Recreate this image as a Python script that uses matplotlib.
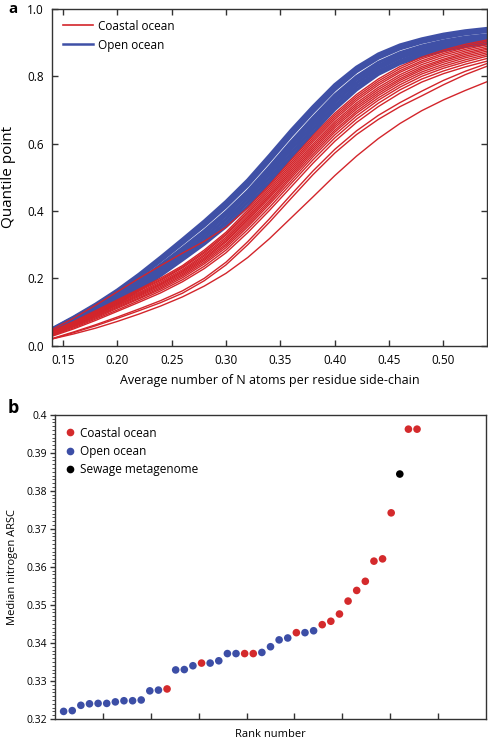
import numpy as np
import matplotlib
matplotlib.use("Agg")
import matplotlib.pyplot as plt
from matplotlib.lines import Line2D

plt.rcParams['font.family'] = ['Open Sans', 'DejaVu Sans']

# ---------------- Panel a data ----------------
x_grid = [0.14, 0.16, 0.18, 0.20, 0.22, 0.24, 0.26, 0.28, 0.30, 0.32, 0.34,
          0.36, 0.38, 0.40, 0.42, 0.44, 0.46, 0.48, 0.50, 0.52, 0.54]

open_curves = [
    [0.050, 0.085, 0.123, 0.165, 0.212, 0.263, 0.316, 0.370, 0.428, 0.492, 0.565, 0.640, 0.710, 0.775, 0.827, 0.866, 0.893, 0.911, 0.925, 0.935, 0.942],
    [0.049, 0.083, 0.120, 0.161, 0.207, 0.258, 0.310, 0.363, 0.421, 0.484, 0.557, 0.632, 0.702, 0.768, 0.820, 0.860, 0.888, 0.906, 0.920, 0.930, 0.938],
    [0.047, 0.081, 0.117, 0.157, 0.203, 0.252, 0.304, 0.356, 0.413, 0.476, 0.549, 0.624, 0.694, 0.760, 0.814, 0.854, 0.882, 0.901, 0.915, 0.926, 0.933],
    [0.044, 0.076, 0.110, 0.149, 0.193, 0.240, 0.290, 0.341, 0.397, 0.459, 0.531, 0.606, 0.677, 0.744, 0.799, 0.841, 0.870, 0.890, 0.905, 0.916, 0.923],
    [0.042, 0.073, 0.106, 0.144, 0.186, 0.233, 0.282, 0.332, 0.387, 0.448, 0.520, 0.595, 0.666, 0.734, 0.790, 0.832, 0.862, 0.882, 0.898, 0.909, 0.917],
    [0.040, 0.070, 0.102, 0.138, 0.180, 0.225, 0.273, 0.322, 0.376, 0.437, 0.509, 0.584, 0.655, 0.724, 0.780, 0.824, 0.855, 0.875, 0.891, 0.903, 0.911],
    [0.037, 0.066, 0.098, 0.133, 0.173, 0.217, 0.264, 0.312, 0.365, 0.426, 0.497, 0.572, 0.644, 0.713, 0.770, 0.815, 0.846, 0.868, 0.884, 0.896, 0.904],
    [0.035, 0.063, 0.093, 0.127, 0.166, 0.209, 0.255, 0.302, 0.354, 0.414, 0.485, 0.560, 0.632, 0.702, 0.760, 0.806, 0.838, 0.860, 0.877, 0.889, 0.897],
]

coastal_curves = [
    [0.048, 0.082, 0.120, 0.160, 0.200, 0.238, 0.275, 0.310, 0.352, 0.410, 0.478, 0.552, 0.624, 0.690, 0.746, 0.792, 0.829, 0.857, 0.878, 0.895, 0.908],
    [0.044, 0.072, 0.104, 0.136, 0.168, 0.201, 0.238, 0.284, 0.337, 0.403, 0.473, 0.546, 0.618, 0.684, 0.740, 0.786, 0.823, 0.852, 0.873, 0.890, 0.904],
    [0.042, 0.070, 0.101, 0.133, 0.165, 0.197, 0.234, 0.279, 0.332, 0.397, 0.467, 0.540, 0.612, 0.678, 0.734, 0.780, 0.817, 0.846, 0.868, 0.885, 0.899],
    [0.041, 0.069, 0.099, 0.131, 0.162, 0.194, 0.231, 0.275, 0.328, 0.392, 0.461, 0.534, 0.606, 0.672, 0.728, 0.774, 0.812, 0.841, 0.863, 0.880, 0.894],
    [0.040, 0.067, 0.097, 0.128, 0.158, 0.190, 0.226, 0.270, 0.322, 0.386, 0.455, 0.528, 0.599, 0.665, 0.721, 0.767, 0.805, 0.835, 0.857, 0.875, 0.889],
    [0.038, 0.065, 0.094, 0.125, 0.155, 0.186, 0.222, 0.266, 0.317, 0.381, 0.449, 0.522, 0.593, 0.659, 0.715, 0.761, 0.799, 0.829, 0.851, 0.870, 0.884],
    [0.037, 0.063, 0.092, 0.122, 0.152, 0.183, 0.219, 0.261, 0.312, 0.376, 0.444, 0.516, 0.587, 0.653, 0.709, 0.755, 0.793, 0.824, 0.847, 0.865, 0.880],
    [0.036, 0.062, 0.090, 0.120, 0.149, 0.180, 0.215, 0.257, 0.308, 0.371, 0.439, 0.510, 0.581, 0.647, 0.703, 0.749, 0.788, 0.819, 0.842, 0.860, 0.875],
    [0.035, 0.060, 0.087, 0.117, 0.146, 0.176, 0.211, 0.253, 0.302, 0.365, 0.432, 0.504, 0.575, 0.640, 0.696, 0.743, 0.782, 0.813, 0.836, 0.855, 0.870],
    [0.033, 0.058, 0.085, 0.114, 0.142, 0.172, 0.207, 0.248, 0.297, 0.359, 0.426, 0.498, 0.568, 0.634, 0.690, 0.736, 0.775, 0.807, 0.830, 0.849, 0.865],
    [0.032, 0.056, 0.082, 0.111, 0.139, 0.168, 0.202, 0.243, 0.291, 0.353, 0.420, 0.490, 0.561, 0.626, 0.682, 0.729, 0.768, 0.800, 0.824, 0.843, 0.860],
    [0.030, 0.053, 0.079, 0.106, 0.134, 0.163, 0.196, 0.236, 0.284, 0.345, 0.411, 0.482, 0.552, 0.617, 0.673, 0.720, 0.760, 0.792, 0.816, 0.836, 0.853],
    [0.028, 0.050, 0.075, 0.102, 0.129, 0.157, 0.190, 0.229, 0.276, 0.336, 0.402, 0.472, 0.542, 0.607, 0.663, 0.710, 0.750, 0.783, 0.808, 0.828, 0.845],
    [0.021, 0.041, 0.062, 0.085, 0.109, 0.134, 0.163, 0.200, 0.248, 0.309, 0.377, 0.449, 0.519, 0.583, 0.638, 0.684, 0.722, 0.756, 0.788, 0.815, 0.838],
    [0.020, 0.039, 0.059, 0.081, 0.104, 0.128, 0.156, 0.193, 0.240, 0.300, 0.367, 0.438, 0.508, 0.572, 0.627, 0.672, 0.710, 0.742, 0.775, 0.805, 0.830],
    [0.020, 0.035, 0.052, 0.072, 0.094, 0.118, 0.145, 0.177, 0.215, 0.262, 0.318, 0.380, 0.442, 0.505, 0.563, 0.615, 0.660, 0.698, 0.730, 0.758, 0.784],
]

a_xticks = [0.15, 0.20, 0.25, 0.30, 0.35, 0.40, 0.45, 0.50]
a_yticks = [0.0, 0.2, 0.4, 0.6, 0.8, 1.0]

# ---------------- Panel b data ----------------
rank_values = [0.3220, 0.3222, 0.3236, 0.3240, 0.3241, 0.3241, 0.3245, 0.3248, 0.3248, 0.3250,
               0.3274, 0.3276, 0.3279, 0.3329, 0.3330, 0.3340, 0.3347, 0.3347, 0.3353, 0.3372,
               0.3372, 0.3372, 0.3372, 0.3375, 0.3390, 0.3408, 0.3413, 0.3427, 0.3427, 0.3432,
               0.3448, 0.3457, 0.3476, 0.3510, 0.3538, 0.3562, 0.3615, 0.3621, 0.3742, 0.3844,
               0.3962, 0.3962]
rank_groups = ['O', 'O', 'O', 'O', 'O', 'O', 'O', 'O', 'O', 'O',
               'O', 'O', 'C', 'O', 'O', 'O', 'C', 'O', 'O', 'O',
               'O', 'C', 'C', 'O', 'O', 'O', 'O', 'C', 'O', 'O',
               'C', 'C', 'C', 'C', 'C', 'C', 'C', 'C', 'C', 'S',
               'C', 'C']
group_names = {'C': 'Coastal ocean', 'O': 'Open ocean', 'S': 'Sewage metagenome'}
b_yticks = [0.32, 0.33, 0.34, 0.35, 0.36, 0.37, 0.38, 0.39, 0.40]
b_yticklabels = ['0.32', '0.33', '0.34', '0.35', '0.36', '0.37', '0.38', '0.39', '0.4']

RED = '#d3252b'
BLUE = '#3f50a6'
colors = {'C': '#d42a2c', 'O': '#3c4ea6', 'S': '#000000'}
SPINE = '#333333'

fig = plt.figure(figsize=(4.89, 7.40), dpi=100)

# ---------------- Panel a ----------------
axa = fig.add_axes([52/489, 1-345.7/740, (487-52)/489, (345.7-9)/740])
for c in open_curves:
    axa.plot(x_grid, c, color=BLUE, lw=2.4, solid_joinstyle='round')
for c in coastal_curves:
    axa.plot(x_grid, c, color=RED, lw=1.0, solid_joinstyle='round')
axa.set_xlim(0.14, 0.54)
axa.set_ylim(0.0, 1.0)
axa.set_xticks(a_xticks)
axa.set_xticklabels(['%.2f' % v for v in a_xticks])
axa.set_yticks(a_yticks)
axa.set_yticklabels(['%.1f' % v for v in a_yticks])
axa.tick_params(direction='in', top=True, right=True, length=4, width=1.0,
                color=SPINE, labelsize=8.5, pad=6)
for s in axa.spines.values():
    s.set_color(SPINE)
    s.set_linewidth(1.0)
axa.set_xlabel('Average number of N atoms per residue side-chain', fontsize=9, labelpad=5)
axa.set_ylabel('Quantile point', fontsize=11, labelpad=8)
leg_a = [Line2D([0], [0], color=RED, lw=1.2), Line2D([0], [0], color=BLUE, lw=1.8)]
axa.legend(leg_a, ['Coastal ocean', 'Open ocean'], loc='upper left', frameon=False,
           fontsize=8.5, handlelength=2.6, handletextpad=0.4, borderaxespad=0.5,
           labelspacing=0.5)
fig.text(8/489, 1-9/740, 'a', fontsize=11, fontweight='bold', ha='left', va='center')

# ---------------- Panel b ----------------
axb = fig.add_axes([55/489, 1-719/740, (486-55)/489, (719-414.7)/740])
ranks = list(range(1, len(rank_values) + 1))
for g in ['C', 'O', 'S']:
    xs = [r for r, gg in zip(ranks, rank_groups) if gg == g]
    ys = [v for v, gg in zip(rank_values, rank_groups) if gg == g]
    axb.scatter(xs, ys, s=30, color=colors[g], edgecolors='none', label=group_names[g], zorder=3)
axb.set_xlim(0, 50)
axb.set_ylim(0.32, 0.40)
axb.set_xticks(np.linspace(0, 50, 10)[1:-1])
axb.set_xticklabels([])
axb.tick_params(axis='x', direction='in', length=4, width=1.0, color=SPINE)
axb.set_yticks(b_yticks)
axb.set_yticklabels(b_yticklabels)
axb.set_yticks(np.arange(0.32, 0.4001, 0.001), minor=True)
axb.tick_params(axis='y', which='major', direction='out', length=3.5, width=1.0,
                color=SPINE, labelsize=7.5, pad=2)
axb.tick_params(axis='y', which='minor', direction='out', length=2, width=0.6, color=SPINE)
for s in axb.spines.values():
    s.set_color(SPINE)
    s.set_linewidth(1.0)
axb.set_xlabel('Rank number', fontsize=8, labelpad=4)
axb.set_ylabel('Median nitrogen ARSC', fontsize=8, labelpad=6)
hs = [Line2D([0], [0], marker='o', ls='none', color=colors[g], markersize=4.5) for g in ['C', 'O', 'S']]
axb.legend(hs, [group_names[g] for g in ['C', 'O', 'S']], loc='upper left', frameon=False,
           fontsize=8.5, handlelength=0.6, handletextpad=0.5, borderaxespad=0.6,
           labelspacing=0.45)
fig.text(8/489, 1-408/740, 'b', fontsize=13, fontweight='bold', ha='left', va='center')

fig.savefig('out.png', dpi=100)
